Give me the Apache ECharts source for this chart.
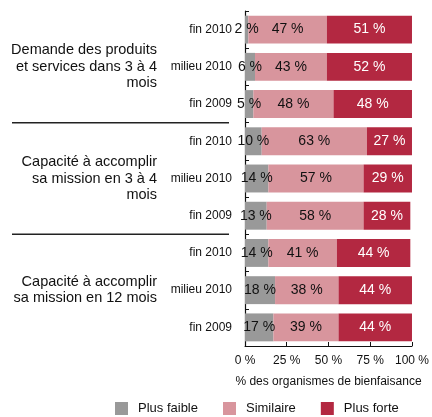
<!DOCTYPE html>
<html>
<head>
<meta charset="utf-8">
<script src="https://cdn.jsdelivr.net/npm/echarts@6/dist/echarts.min.js"></script>
<style>html,body{margin:0;padding:0;background:#fff;}#c{width:432px;height:417px;}</style>
</head>
<body>
<div id="c"></div>
<script>
var subLabels = ['fin 2010','milieu 2010','fin 2009','fin 2010','milieu 2010','fin 2009','fin 2010','milieu 2010','fin 2009'];
var groupLabels = ['Demande des produits\net services dans 3 à 4\nmois','Capacité à accomplir\nsa mission en 3 à 4\nmois','Capacité à accomplir\nsa mission en 12 mois'];
var plusFaible = [2, 6, 5, 10, 14, 13, 14, 18, 17];
var similaire  = [47, 43, 48, 63, 57, 58, 41, 38, 39];
var plusForte  = [51, 52, 48, 27, 29, 28, 44, 44, 44];
var seriesNames = ['Plus faible','Similaire','Plus forte'];
var xTicks = [0, 25, 50, 75, 100];

var FONT = 'Liberation Sans, Arial, Helvetica, sans-serif';
var colors = ['#999999','#d8959d','#b32841'];
var labelColors = ['#111','#111','#fff'];
var catKeys = subLabels.map(function(s,i){return String(i);});

function mkSeries(name, data, idx){
  return {
    name: name, type: 'bar', stack: 'total', data: data,
    barCategoryGap: '25%',
    itemStyle: {color: colors[idx]},
    label: {show: true, position: 'inside', formatter: '{c} %', color: labelColors[idx], fontSize: 14, fontFamily: FONT},
    emphasis: {disabled: true}
  };
}

var chart = echarts.init(document.getElementById('c'), null, {renderer:'canvas'});
var option = {
  animation: false,
  textStyle: {fontFamily: FONT},
  grid: {left: 245, right: 17, top: 11, bottom: 71, containLabel: false},
  xAxis: {
    type: 'value', min: xTicks[0], max: xTicks[xTicks.length-1], interval: 25,
    axisLine: {show: true, lineStyle: {color: '#111', width: 1}},
    axisTick: {show: true, inside: true, length: 4, lineStyle: {color: '#111'}},
    splitLine: {show: false},
    axisLabel: {formatter: '{value} %', fontSize: 12, color: '#111', margin: 9, fontFamily: FONT},
    name: '% des organismes de bienfaisance', nameLocation: 'middle', nameGap: 30,
    nameTextStyle: {fontSize: 12, color: '#111', fontFamily: FONT}
  },
  yAxis: [{
    type: 'category', data: catKeys, inverse: true,
    axisLine: {show: true, lineStyle: {color: '#111', width: 1.2}},
    axisTick: {show: true, inside: true, length: 4, lineStyle: {color: '#111'}},
    axisLabel: {formatter: function(v){return subLabels[+v];}, fontSize: 12, color: '#111', margin: 13, fontFamily: FONT}
  },{
    type: 'category', data: groupLabels, inverse: true, position: 'left', offset: 80,
    axisLine: {show: false}, axisTick: {show: false},
    axisLabel: {fontSize: 14.5, lineHeight: 16.5, color: '#111', align: 'right', margin: 8, fontFamily: FONT}
  }],
  legend: {
    data: seriesNames, left: 110, top: 397, itemWidth: 13, itemHeight: 13, itemGap: 25,
    icon: 'rect',
    textStyle: {fontSize: 13, color: '#111', padding: [0,0,0,5], fontFamily: FONT}
  },
  series: [mkSeries(seriesNames[0], plusFaible, 0), mkSeries(seriesNames[1], similaire, 1), mkSeries(seriesNames[2], plusForte, 2)]
};
chart.setOption(option);

// separator lines between groups, positioned from the category scale
var seps = [];
[2, 5].forEach(function(i){
  var a = chart.convertToPixel({yAxisIndex: 0}, catKeys[i]);
  var b = chart.convertToPixel({yAxisIndex: 0}, catKeys[i+1]);
  var y = (a + b) / 2;
  seps.push({type: 'line', shape: {x1: 12, y1: y, x2: 229, y2: y}, style: {stroke: '#222', lineWidth: 1.5}, silent: true});
});
chart.setOption({graphic: seps});
</script>
</body>
</html>
